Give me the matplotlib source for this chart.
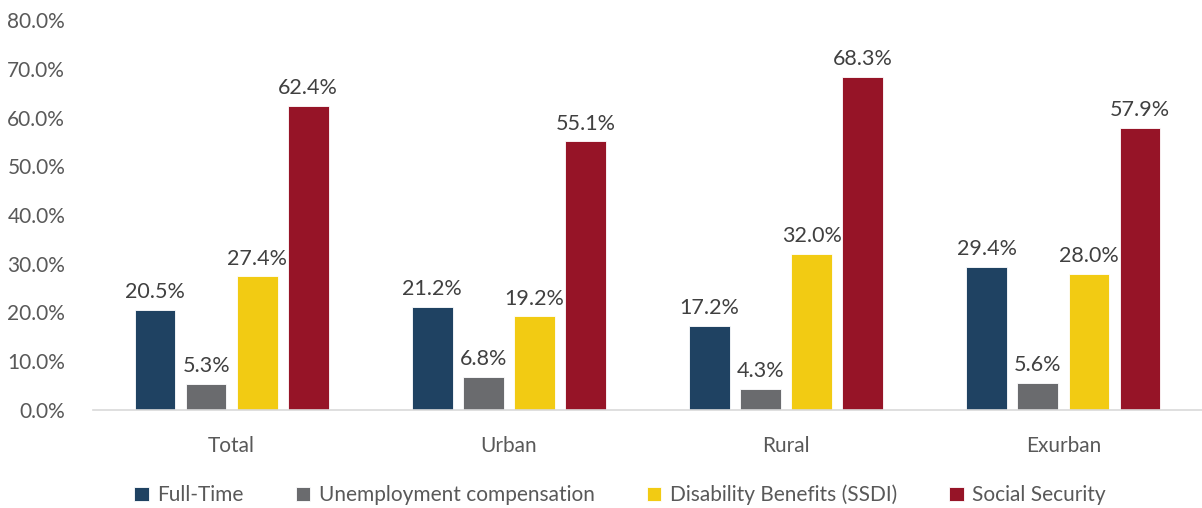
import numpy as np
import matplotlib.pyplot as plt

plt.rcParams['font.family'] = ['Lato', 'DejaVu Sans']

categories = ['Total', 'Urban', 'Rural', 'Exurban']
series = ['Full-Time', 'Unemployment compensation', 'Disability Benefits (SSDI)', 'Social Security']
full_time = [20.5, 21.2, 17.2, 29.4]
unemployment = [5.3, 6.8, 4.3, 5.6]
disability = [27.4, 19.2, 32.0, 28.0]
social_security = [62.4, 55.1, 68.3, 57.9]
colors = ['#1F4262', '#6A6B6E', '#F2CB13', '#961427']

values = [full_time, unemployment, disability, social_security]
text_color = '#595959'

fig = plt.figure(figsize=(12.02, 5.08), dpi=100)
ax = fig.add_axes([93 / 1202, 98 / 508, 1109 / 1202, 390 / 508])

x = np.arange(len(categories))
step = 0.184
width = 0.147
for i, (name, vals, c) in enumerate(zip(series, values, colors)):
    pos = x + (i - 1.5) * step
    bars = ax.bar(pos, vals, width, color=c, label=name, edgecolor='white', linewidth=0.6)
    for b, v in zip(bars, vals):
        ax.text(b.get_x() + b.get_width() / 2, v + 1.6, f'{v:.1f}%',
                ha='center', va='bottom', fontsize=15.5, color='#404040')

ax.set_xlim(-0.5, len(categories) - 0.5)
ax.set_ylim(0, 80)
ax.set_yticks(np.arange(0, 81, 10))
ax.set_yticklabels([f'{t:.1f}%' for t in np.arange(0, 81, 10)])
ax.set_xticks(x)
ax.set_xticklabels(categories)
ax.tick_params(axis='both', length=0, labelsize=15, labelcolor=text_color)
ax.tick_params(axis='y', pad=20)
ax.tick_params(axis='x', pad=19)
for s in ['top', 'right', 'left']:
    ax.spines[s].set_visible(False)
ax.spines['bottom'].set_color('#D9D9D9')
ax.spines['bottom'].set_linewidth(1.2)

leg = fig.legend(loc='center', bbox_to_anchor=(620 / 1202, 1 - 495 / 508), ncol=4,
                 frameon=False, fontsize=15, handlelength=0.7, handleheight=0.7,
                 handletextpad=0.4, columnspacing=2.5)
for t in leg.get_texts():
    t.set_color(text_color)

fig.savefig('out.png', dpi=100)
